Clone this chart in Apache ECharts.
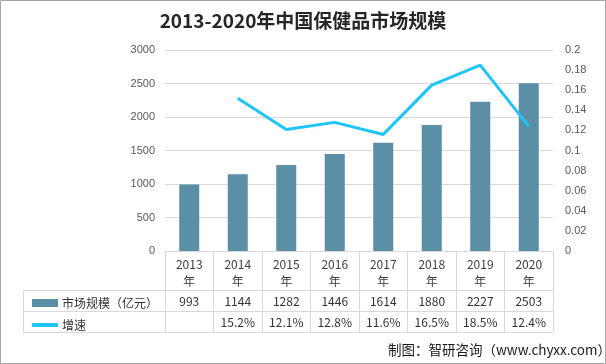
<!DOCTYPE html>
<html><head><meta charset="utf-8">
<script src="https://cdn.jsdelivr.net/npm/echarts@6/dist/echarts.min.js"></script>
<style>html,body{margin:0;padding:0;background:#fff}#c{width:606px;height:364px}</style>
</head><body><div id="c"></div>
<script>
var years = ['2013','2014','2015','2016','2017','2018','2019','2020'];
var marketSize = [993, 1144, 1282, 1446, 1614, 1880, 2227, 2503];
var growth = [null, 0.152, 0.121, 0.128, 0.116, 0.165, 0.185, 0.124];
var growthLabels = ['', '15.2%', '12.1%', '12.8%', '11.6%', '16.5%', '18.5%', '12.4%'];
var seriesNames = ['市场规模（亿元）', '增速'];

var GL = 165, GR = 553, GT = 50, GB = 251;
var ROW1 = 290, ROW2 = 311, ROW3 = 332, TL = 23;
var lineC = '#d9d9d9';

var chart = echarts.init(document.getElementById('c'));
var catAxisBase = {
  type: 'category', gridIndex: 0, position: 'bottom', data: null,
  axisLine: {show: false}, axisTick: {show: false}, splitLine: {show: false}
};
chart.setOption({
  animation: false,
  title: {
    text: '2013-2020年中国保健品市场规模',
    left: 298, top: 6, textAlign: 'center',
    textStyle: {fontFamily: 'Noto Sans CJK SC', fontWeight: 'bold', fontSize: 19, color: '#262626'}
  },
  legend: [
    {data: [{name: seriesNames[0], icon: 'rect'}], left: 27, top: 292, itemWidth: 26, itemHeight: 8, itemGap: 4,
      textStyle: {fontSize: 12, color: '#333', fontFamily: 'Noto Sans CJK SC', padding: [0,0,0,-1]}},
    {data: [{name: seriesNames[1], icon: 'roundRect'}], left: 27, top: 314, itemWidth: 26, itemHeight: 4, itemGap: 4,
      textStyle: {fontSize: 12, color: '#333', fontFamily: 'Noto Sans CJK SC', padding: [0,0,0,-1]}}
  ],
  grid: {left: GL, right: 606 - GR, top: GT, bottom: 364 - GB, containLabel: false},
  xAxis: [
    {type: 'category', data: years.map(function(y){return y + '\n年';}), position: 'bottom',
      axisLine: {show: true, lineStyle: {color: lineC}},
      axisTick: {show: true, alignWithLabel: false, length: ROW3 - GB, lineStyle: {color: lineC}},
      axisLabel: {color: '#404040', fontSize: 12, lineHeight: 17, margin: 5, fontFamily: 'Noto Sans CJK SC'}},
    Object.assign({}, catAxisBase, {data: marketSize.map(String), offset: 42,
      axisLabel: {color: '#333', fontSize: 12, lineHeight: 14, margin: 1, fontFamily: 'Noto Sans CJK SC'}}),
    Object.assign({}, catAxisBase, {data: growthLabels, offset: 63,
      axisLabel: {color: '#333', fontSize: 12, lineHeight: 14, margin: 1, fontFamily: 'Noto Sans CJK SC'}})
  ],
  yAxis: [
    {type: 'value', min: 0, max: 3000, interval: 500,
      axisLine: {show: false}, axisTick: {show: false},
      splitLine: {lineStyle: {color: lineC}},
      axisLabel: {color: '#595959', fontSize: 11, margin: 10, formatter: function(v){return String(v);}}},
    {type: 'value', min: 0, max: 0.2, interval: 0.02, position: 'right',
      axisLine: {show: false}, axisTick: {show: false}, splitLine: {show: false},
      axisLabel: {color: '#595959', fontSize: 11, margin: 12}}
  ],
  series: [
    {name: seriesNames[0], type: 'bar', data: marketSize, barWidth: 20, itemStyle: {color: '#5B8FA5'}},
    {name: seriesNames[1], type: 'line', yAxisIndex: 1, data: growth, symbol: 'none', showSymbol: false,
      lineStyle: {color: '#1EC5F7', width: 3}, itemStyle: {color: '#1EC5F7'}}
  ],
  graphic: [
    {type: 'line', shape: {x1: TL, y1: ROW1 + 0.5, x2: GR, y2: ROW1 + 0.5}, style: {stroke: lineC, lineWidth: 1}},
    {type: 'line', shape: {x1: TL, y1: ROW2 + 0.5, x2: GR, y2: ROW2 + 0.5}, style: {stroke: lineC, lineWidth: 1}},
    {type: 'line', shape: {x1: TL, y1: ROW3 + 0.5, x2: GR, y2: ROW3 + 0.5}, style: {stroke: lineC, lineWidth: 1}},
    {type: 'line', shape: {x1: TL + 0.5, y1: ROW1, x2: TL + 0.5, y2: ROW3}, style: {stroke: lineC, lineWidth: 1}},
    {type: 'text', left: 388, top: 343, style: {text: '制图：智研咨询（www.chyxx.com）', fontSize: 13.5, fill: '#1a1a1a', fontFamily: 'Noto Sans CJK SC'}},
    {type: 'rect', shape: {x: 0.5, y: 0.5, width: 605, height: 363}, style: {fill: 'none', stroke: '#a6a6a6', lineWidth: 1}}
  ]
});
</script></body></html>
